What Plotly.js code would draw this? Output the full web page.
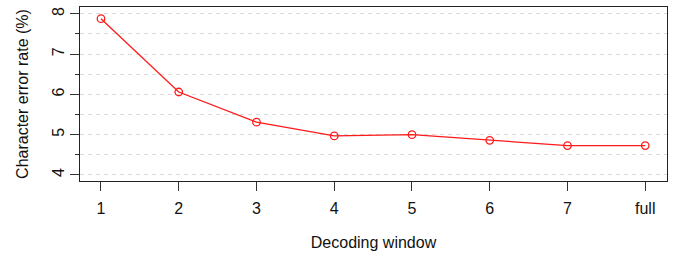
<!DOCTYPE html>
<html><head><meta charset="utf-8">
<script src="https://cdn.plot.ly/plotly-3.0.1.min.js"></script>
<style>html,body{margin:0;padding:0;background:#fff;}#chart{width:673px;height:253px;}</style>
</head><body><div id="chart"></div>
<script>
var windows = ["1", "2", "3", "4", "5", "6", "7", "full"];
var cer = [7.88, 6.06, 5.31, 4.97, 5.00, 4.86, 4.73, 4.73];
var yTicks = [4, 5, 6, 7, 8];

var trace = {
  x: windows, y: cer, type: 'scatter', mode: 'lines+markers',
  line: {color: '#ff1a1a', width: 1.3},
  marker: {symbol: 'circle-open', size: 7.5, color: '#ff1a1a', line: {width: 1.3, color: '#ff1a1a'}},
  hoverinfo: 'skip'
};
var fam = 'Liberation Sans, Arial, sans-serif';
var layout = {
  width: 673, height: 253,
  margin: {l: 80, r: 6, t: 7, b: 72},
  paper_bgcolor: '#fff', plot_bgcolor: '#fff',
  showlegend: false,
  font: {family: fam, size: 16, color: '#111'},
  xaxis: {
    type: 'category', range: [-0.27, 7.28],
    showline: true, mirror: true, linecolor: '#222', linewidth: 1,
    showgrid: false, zeroline: false,
    ticks: 'outside', ticklen: 9, tickcolor: '#333', tickwidth: 1,
    ticklabelstandoff: 4,
    tickfont: {family: fam, size: 16, color: '#111'},
    title: {text: 'Decoding window', font: {family: fam, size: 16, color: '#111'}, standoff: 20}
  },
  yaxis: {
    range: [3.85, 8.17], tickvals: yTicks, ticktext: yTicks.map(String),
    tickangle: -90,
    showline: true, mirror: true, linecolor: '#222', linewidth: 1,
    showgrid: true, gridcolor: '#d9d9d9', griddash: '4px,4px', gridwidth: 1,
    zeroline: false,
    ticks: 'outside', ticklen: 9, tickcolor: '#333', tickwidth: 1,
    minor: {dtick: 0.5, tick0: 4, ticks: 'outside', ticklen: 4, tickcolor: '#333', showgrid: true, gridcolor: '#d9d9d9', griddash: '4px,4px', gridwidth: 1},
    tickfont: {family: fam, size: 16, color: '#111'},
    title: {text: 'Character error rate (%)', font: {family: fam, size: 16, color: '#111'}, standoff: 16}
  }
};
Plotly.newPlot('chart', [trace], layout, {staticPlot: true, displayModeBar: false});
</script></body></html>
